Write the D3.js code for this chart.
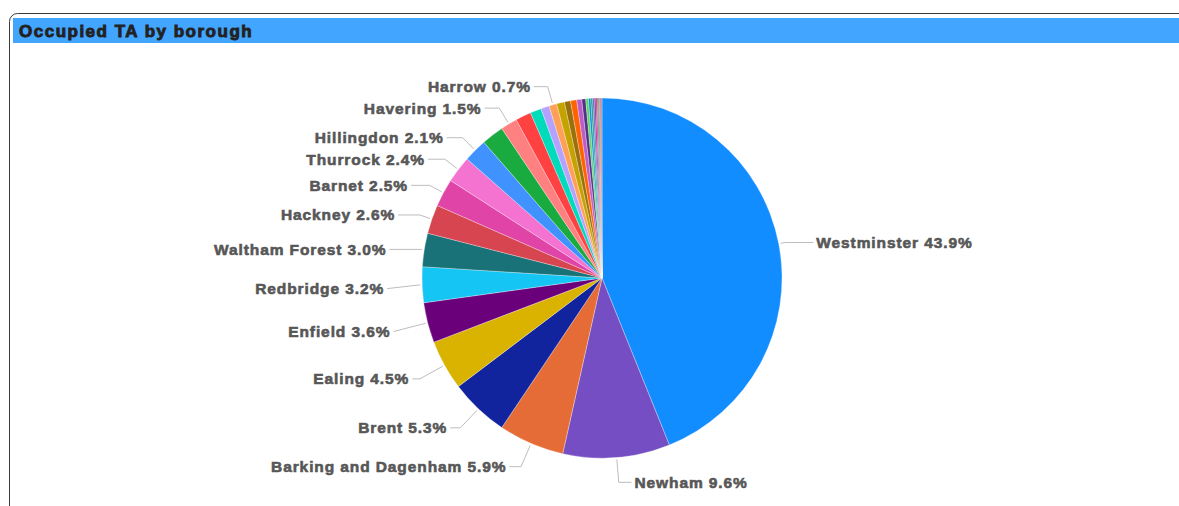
<!DOCTYPE html>
<html>
<head>
<meta charset="utf-8">
<script src="https://cdn.jsdelivr.net/npm/d3@7"></script>
<style>
  body { margin: 0; background: #fff; font-family: "Liberation Sans", Arial, sans-serif; }
</style>
</head>
<body>
<script>
// occupied temporary accommodation, share by borough (percent)
var boroughs = [
  "Westminster", "Newham", "Barking and Dagenham", "Brent", "Ealing", "Enfield",
  "Redbridge", "Waltham Forest", "Hackney", "Barnet", "Thurrock", "Hillingdon",
  "Croydon", "Havering", "Lewisham", "Haringey", "Southwark", "Harrow", "Greenwich",
  "Lambeth", "Hounslow", "Tower Hamlets", "Camden", "Islington", "Bexley", "Bromley",
  "Wandsworth", "Sutton", "Merton", "Hammersmith and Fulham", "Kensington and Chelsea",
  "Kingston upon Thames", "Richmond upon Thames", "Slough", "Luton"
];
var shares = [
  43.9, 9.6, 5.9, 5.3, 4.5, 3.6,
  3.2, 3.0, 2.6, 2.5, 2.4, 2.1,
  2.0, 1.5, 1.4, 1.0, 0.75, 0.7, 0.7,
  0.55, 0.55, 0.45, 0.35, 0.25, 0.2, 0.17,
  0.15, 0.13, 0.12, 0.1, 0.09,
  0.08, 0.06, 0.05, 0.05
];
var colours = [
  "#118DFF", "#744EC2", "#E66C37", "#12239E", "#D9B300", "#6B007B",
  "#15C6F4", "#197278", "#D64550", "#E044A7", "#F472D0", "#4092FF",
  "#1AAB40", "#FF8080", "#FF4141", "#00DBBC", "#B5A1FF", "#FFA058", "#C4A200",
  "#99700A", "#FF6300", "#BE5DC9", "#533285", "#5BD667", "#0091D5", "#1F9A85",
  "#4668C5", "#99008A", "#EC008C", "#25891C", "#0057A2",
  "#C94F0F", "#450F54", "#B60064", "#6A1A1A"
];
// the labels the chart actually shows (the rest were hidden for overlap)
var labelled = [
  "Westminster", "Newham", "Barking and Dagenham", "Brent", "Ealing", "Enfield",
  "Redbridge", "Waltham Forest", "Hackney", "Barnet", "Thurrock", "Hillingdon",
  "Havering", "Harrow"
];

var width  = 1179,
    height = 506,
    cx = 602,
    cy = 278,
    radius = 180,
    labelR = 202;

var svg = d3.select("body").append("svg")
    .attr("width", width)
    .attr("height", height);

// panel frame + header
svg.append("rect")
    .attr("x", 9.5).attr("y", 13.5)
    .attr("width", width + 20).attr("height", height + 20)
    .attr("rx", 8).attr("ry", 8)
    .attr("fill", "#fff")
    .attr("stroke", "#3a3a3a");

svg.append("rect")
    .attr("x", 13).attr("y", 18)
    .attr("width", width - 13).attr("height", 25)
    .attr("fill", "#42A5FF");

svg.append("text")
    .attr("x", 19).attr("y", 37)
    .attr("font-size", 17)
    .attr("font-weight", "bold")
    .attr("letter-spacing", 1.5)
    .attr("fill", "#222")
    .attr("stroke", "#222")
    .attr("stroke-width", 0.9)
    .text("Occupied TA by borough");

var data = boroughs.map(function(b, i) {
  return {name: b, value: shares[i], colour: colours[i]};
});
var total = d3.sum(shares);

var pie = d3.pie()
    .sort(null)
    .value(function(d) { return d.value; });

var arc = d3.arc()
    .innerRadius(0)
    .outerRadius(radius);

var arcs = pie(data);

var g = svg.append("g")
    .attr("transform", "translate(" + cx + "," + cy + ")");

g.selectAll("path")
    .data(arcs)
  .enter().append("path")
    .attr("d", arc)
    .attr("fill", function(d) { return d.data.colour; })
    .attr("stroke", "#fff")
    .attr("stroke-width", 0.3);

var polar = function(a, r) {
  return [cx + r * Math.sin(a), cy - r * Math.cos(a)];
};

var shown = arcs.filter(function(d) { return labelled.indexOf(d.data.name) >= 0; });

shown.forEach(function(d) {
  var mid = (d.startAngle + d.endAngle) / 2;
  var left = Math.sin(mid) < 0;
  var nat = polar(mid, labelR);
  var ly = nat[1] + 3;
  var tx = left ? nat[0] - 16 : nat[0] + 16;
  var edge = left ? tx + 3 : tx - 3;
  var touch = polar(mid, radius + 2);

  // crook: where the radial line through the slice meets the label row
  var pts = [[edge, ly]];
  var c = Math.cos(mid);
  if (Math.abs(c) > 1e-6) {
    var t = (cy - ly) / c;
    var crookX = cx + t * Math.sin(mid);
    var ok = left ? (crookX >= edge && crookX <= touch[0]) : (crookX <= edge && crookX >= touch[0]);
    if (ok) pts.push([crookX, ly]);
  }
  pts.push(touch);

  svg.append("path")
      .attr("d", d3.line()(pts))
      .attr("fill", "none")
      .attr("stroke", "#bdbdbd")
      .attr("stroke-width", 1);

  svg.append("text")
      .attr("x", tx)
      .attr("y", ly)
      .attr("dy", "0.35em")
      .attr("text-anchor", left ? "end" : "start")
      .attr("font-size", 15.5)
      .attr("font-weight", "bold")
      .attr("letter-spacing", 0.9)
      .attr("fill", "#575757")
      .attr("stroke", "#575757")
      .attr("stroke-width", 0.6)
      .text(d.data.name + " " + (d.data.value / total * 100).toFixed(1) + "%");
});
</script>
</body>
</html>
